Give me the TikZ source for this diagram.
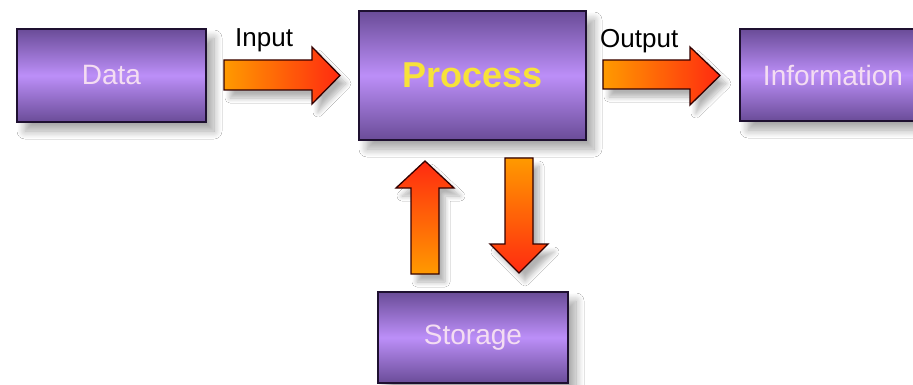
\documentclass[tikz,border=0pt]{standalone}
\usepackage{fontspec}
\setmainfont{Liberation Sans}
\usetikzlibrary{shadows.blur,calc}
\definecolor{boxdark}{HTML}{6A4C98}
\definecolor{boxlight}{HTML}{BC8FF8}
\definecolor{boxedge}{HTML}{1E1030}
\definecolor{boxtext}{HTML}{F4DDF2}
\definecolor{proctext}{HTML}{F7E23A}
\definecolor{arrorange}{HTML}{FF9A00}
\definecolor{arrred}{HTML}{FF2A10}
\begin{document}
\begin{tikzpicture}[x=1pt,y=-1pt,
  box/.style={draw=boxedge, line width=1.4pt, inner sep=0pt,
    top color=boxdark, bottom color=boxdark, middle color=boxlight,
    blur shadow={shadow xshift=8pt, shadow yshift=-9pt, shadow blur steps=10, shadow blur radius=8pt, shadow opacity=35},
    text=boxtext, font=\fontsize{28}{30}\selectfont},
  harrow/.style={draw=black!80!red, line width=1.3pt, line join=miter,
    left color=arrorange, right color=arrred,
    blur shadow={shadow xshift=6pt, shadow yshift=-8pt, shadow blur steps=8, shadow blur radius=5pt, shadow opacity=30}},
  uarrow/.style={draw=black!80!red, line width=1.3pt, line join=miter,
    bottom color=arrorange, top color=arrred,
    blur shadow={shadow xshift=6pt, shadow yshift=-8pt, shadow blur steps=8, shadow blur radius=5pt, shadow opacity=30}},
  darrow/.style={draw=black!80!red, line width=1.3pt, line join=miter,
    top color=arrorange, bottom color=arrred,
    blur shadow={shadow xshift=6pt, shadow yshift=-8pt, shadow blur steps=8, shadow blur radius=5pt, shadow opacity=30}},
  lbl/.style={font=\fontsize{26}{28}\selectfont, text=black, inner sep=0pt}
]
\useasboundingbox (0,0) rectangle (913,385);
\fill[white] (0,0) rectangle (913,385);

\node[box, minimum width=189pt, minimum height=93pt] (data) at (111.5,75.5) {Data};
\node[box, minimum width=227pt, minimum height=129pt, text=proctext,
      font=\fontsize{36}{40}\selectfont\bfseries] (proc) at (472.5,75.5) {Process};
\node[box, minimum width=186pt, minimum height=92pt] (info) at (833,75) {Information};
\node[box, minimum width=190pt, minimum height=91pt] (stor) at (473,337.5) {Storage};

% Input arrow
\path[harrow] (224,60) -- (312,60) -- (312,47) -- (340,75.5) -- (312,104) -- (312,90) -- (224,90) -- cycle;
% Output arrow
\path[harrow] (603,60) -- (690,60) -- (690,47) -- (720,75.5) -- (690,105) -- (690,89) -- (603,89) -- cycle;
% Up arrow
\path[uarrow] (411,274) -- (411,188) -- (396,188) -- (425,161) -- (454,188) -- (439,188) -- (439,274) -- cycle;
% Down arrow
\path[darrow] (505,158) -- (533,158) -- (533,244) -- (548,244) -- (519,273) -- (490,244) -- (505,244) -- cycle;

\node[lbl, anchor=base west] (inlbl) at (235,47) {Input};
\node[lbl, anchor=base west] (outlbl) at (600,48) {Output};
\end{tikzpicture}
\end{document}
